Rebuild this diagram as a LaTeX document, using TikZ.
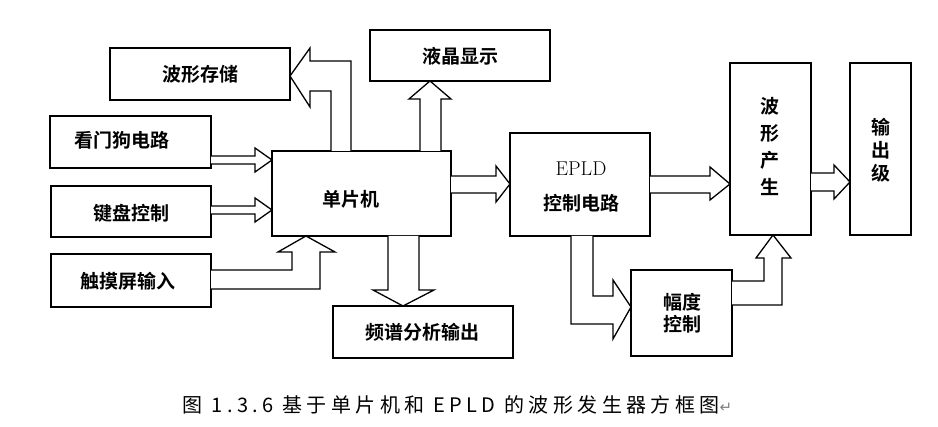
\documentclass[tikz,border=0pt]{standalone}
\usepackage{fontspec}
\newfontfamily\cjk{Noto Sans CJK SC}[LetterSpace=22]
\newfontfamily\cjkb{Noto Sans CJK SC Bold}
\newfontfamily\dvs{DejaVu Sans}
\begin{document}
\begin{tikzpicture}[x=1pt,y=-1pt,line width=1.5pt,line join=miter,
  lbl/.style={font=\cjkb\fontsize{19}{22}\selectfont},
  arr/.style={draw,line width=1.3pt,fill=white}]
\useasboundingbox (0,0) rectangle (938,427);
\draw (110,48) rectangle (290,100); \node[lbl] (store) at (200,74) {波形存储};
\draw (370,30) rectangle (550,81); \node[lbl] (lcd) at (460,56) {液晶显示};
\draw (50,116) rectangle (211,168); \node[lbl] (dog) at (122,140) {看门狗电路};
\draw (51,186) rectangle (211,237); \node[lbl] (key) at (131,213) {键盘控制};
\draw (51,254) rectangle (211,307); \node[lbl] (touch) at (128,281) {触摸屏输入};
\draw (272,151) rectangle (451,236); \node[lbl] (mcu) at (351,199) {单片机};
\draw (333,306) rectangle (513,358); \node[lbl] (spec) at (422,332) {频谱分析输出};
\draw (510,133) rectangle (650,236);
\node[font=\fontsize{20}{20}\selectfont] (epld) at (581,169) {EPLD};
\node[lbl] (epldc) at (581,203) {控制电路};
\draw (730,63) rectangle (811,235);
\node[lbl,align=center,font=\cjkb\fontsize{19}{27}\selectfont] (gen) at (770,147) {波\\形\\产\\生};
\draw (850,63) rectangle (911,235);
\node[lbl,align=center,font=\cjkb\fontsize{19}{23}\selectfont] (out) at (881,150) {输\\出\\级};
\draw (631,270) rectangle (732,356);
\node[lbl,align=center,font=\cjkb\fontsize{19}{22}\selectfont] (amp) at (682,313) {幅度\\控制};
% arrows
\draw[arr] (351,151)--(351,61)--(310,61)--(310,48)--(290,76)--(310,107)--(310,91)--(331,91)--(331,151);
\draw[arr] (420,151)--(420,99)--(409,99)--(430,81)--(451,99)--(441,99)--(441,151);
\draw[arr] (211,156)--(255,156)--(255,148)--(272,160)--(255,172)--(255,164)--(211,164);
\draw[arr] (211,206)--(255,206)--(255,198)--(272,210)--(255,222)--(255,214)--(211,214);
\draw[arr] (211,289)--(320,289)--(320,252)--(335,252)--(306,236)--(278,252)--(292,252)--(292,270)--(211,270);
\draw[arr] (388,236)--(388,290)--(373,290)--(403,306)--(434,290)--(419,290)--(419,236);
\draw[arr] (451,176)--(496,176)--(496,166)--(510,184)--(496,202)--(496,193)--(451,193);
\draw[arr] (650,176)--(710,176)--(710,167)--(730,184)--(710,200)--(710,193)--(650,193);
\draw[arr] (811,173)--(834,173)--(834,165)--(850,182)--(834,199)--(834,191)--(811,191);
\draw[arr] (571,236)--(571,324)--(613,324)--(613,339)--(631,307)--(613,280)--(613,296)--(593,296)--(593,236);
\draw[arr] (732,281)--(764,281)--(764,258)--(756,258)--(773,235)--(791,258)--(782,258)--(782,305)--(732,305);
% caption
\node[font=\cjk\fontsize{20}{22}\selectfont,anchor=west,inner sep=0pt] (cap) at (182,405) {图 1.3.6 基于单片机和 EPLD 的波形发生器方框图{\dvs\textcolor{gray}{\fontsize{15}{15}\selectfont ↵}}};
\end{tikzpicture}
\end{document}
